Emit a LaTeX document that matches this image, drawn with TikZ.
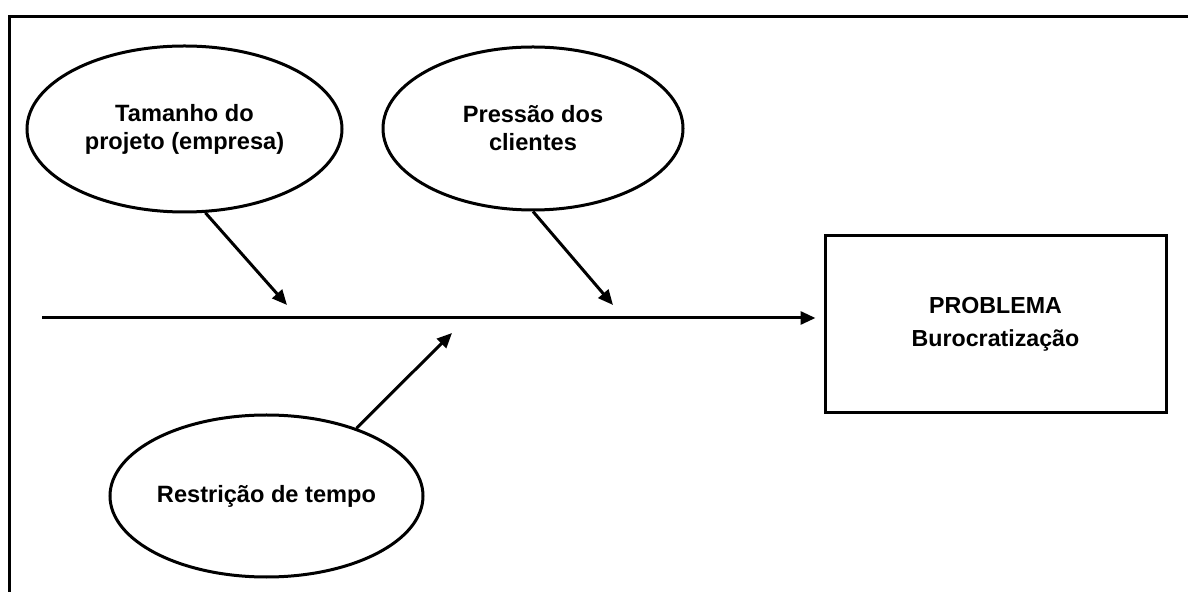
\documentclass[tikz,border=0pt]{standalone}
\usepackage{fontspec}
\setmainfont{Liberation Sans}
\usetikzlibrary{arrows.meta,shapes.geometric}
\tikzset{
  causa/.style={draw,ellipse,line width=1.5pt,inner sep=0pt,align=center,
    font=\fontsize{11.8}{14}\selectfont\bfseries},
  efeito/.style={draw,rectangle,line width=1.5pt,inner sep=0pt,align=center,
    minimum width=170.5pt,minimum height=88.5pt,
    font=\fontsize{11.6}{16.5}\selectfont\bfseries},
  seta/.style={line width=1.5pt,-{Triangle[length=7.5pt,width=6.5pt]}}
}
\begin{document}
\begin{tikzpicture}[x=0.5pt,y=-0.5pt,line cap=butt,line join=miter]
	\useasboundingbox (0,0) rectangle (1188,592);
	% moldura
	\draw [line width=1.5pt] (9.5,592)-- (9.5,17)-- (1188,17);
	% causas
	\node[causa,minimum width=157.5pt,minimum height=83pt] (tam) at (184.5,129) {Tamanho do\\projeto (empresa)};
	\node[causa,minimum width=150pt,minimum height=81.5pt] (pre) at (533,128.5) {Press\~ao dos\\clientes};
	\node[causa,minimum width=156.5pt,minimum height=81pt] (res) at (266.5,496) {Restri\c{c}\~ao de tempo};
	% problema
	\node[efeito] (prob) at (995.5,324.5) {PROBLEMA\\Burocratiza\c{c}\~ao};
	% espinha
	\coordinate (ini) at (42,318);
	\coordinate (pa) at (287,305);
	\coordinate (pb) at (613,305);
	\coordinate (pc) at (452,333);
	\draw [seta,shorten >=4pt] (ini)-- (ini -| prob.west);
	\draw [seta] (tam.-76)-- (pa);
	\draw [seta] (pre.south)-- (pb);
	\draw [seta] (res.37)-- (pc);
\end{tikzpicture}
\end{document}
